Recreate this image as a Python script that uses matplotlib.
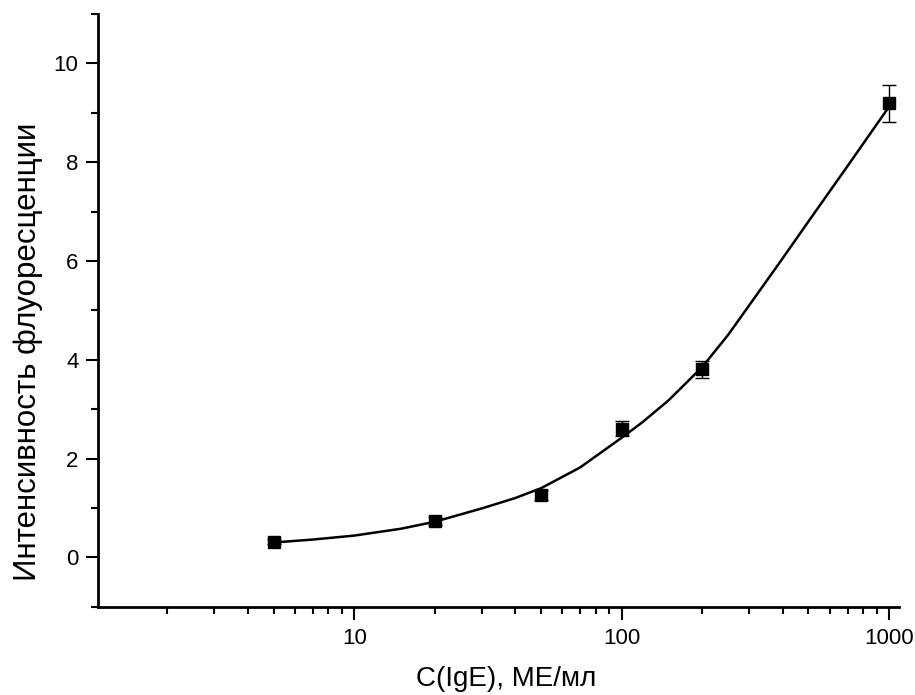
#!/usr/bin/env python3

import matplotlib
matplotlib.use("Agg")
import matplotlib.pyplot as plt
from matplotlib.ticker import LogLocator, MultipleLocator, NullFormatter

plt.rcParams["font.family"] = ["Liberation Sans", "DejaVu Sans"]

# measured points
conc = [5, 20, 50, 100, 200, 1000]
intensity = [0.32, 0.73, 1.27, 2.60, 3.81, 9.19]
err = [0.05, 0.08, 0.10, 0.15, 0.17, 0.37]

# fitted curve
fit_conc = [5, 7, 10, 15, 20, 30, 40, 50, 70, 100, 120, 150, 200, 250,
            300, 400, 500, 700, 1000]
fit_int = [0.30, 0.36, 0.44, 0.58, 0.72, 0.99, 1.20, 1.40, 1.82, 2.42,
           2.74, 3.18, 3.85, 4.50, 5.10, 6.05, 6.80, 7.92, 9.12]

fig = plt.figure(figsize=(9.15, 6.95), dpi=100)
ax = fig.add_axes([0.107, 0.127, 0.8755, 0.853])

ax.plot(fit_conc, fit_int, "-", color="black", lw=1.8, zorder=2)
ax.errorbar(conc, intensity, yerr=err, fmt="s", color="black",
            markersize=8.5, ecolor="black", elinewidth=1, capsize=5,
            capthick=1, zorder=3)

ax.set_xscale("log")
ax.set_xlim(1.1, 1090)
ax.set_ylim(-1, 11)
ax.set_xticks([10, 100, 1000])
ax.set_xticklabels(["10", "100", "1000"])
ax.xaxis.set_minor_locator(LogLocator(base=10, subs=range(2, 10)))
ax.xaxis.set_minor_formatter(NullFormatter())
ax.yaxis.set_major_locator(MultipleLocator(2))
ax.yaxis.set_minor_locator(MultipleLocator(1))

for side in ["top", "right"]:
    ax.spines[side].set_visible(False)
for side in ["left", "bottom"]:
    ax.spines[side].set_linewidth(2)

ax.tick_params(which="major", direction="out", length=9, width=1.5,
               labelsize=16)
ax.tick_params(axis="y", which="major", pad=5)
ax.tick_params(axis="x", which="major", pad=6)
ax.tick_params(which="minor", direction="out", length=5, width=1.5)

ax.set_xlabel("C(IgE), МЕ/мл", fontsize=20)
ax.set_ylabel("Интенсивность флуоресценции", fontsize=22.5)
ax.xaxis.set_label_coords(0.51, -0.1)
ax.yaxis.set_label_coords(-0.068, 0.43)

plt.savefig("out.png", dpi=100)
